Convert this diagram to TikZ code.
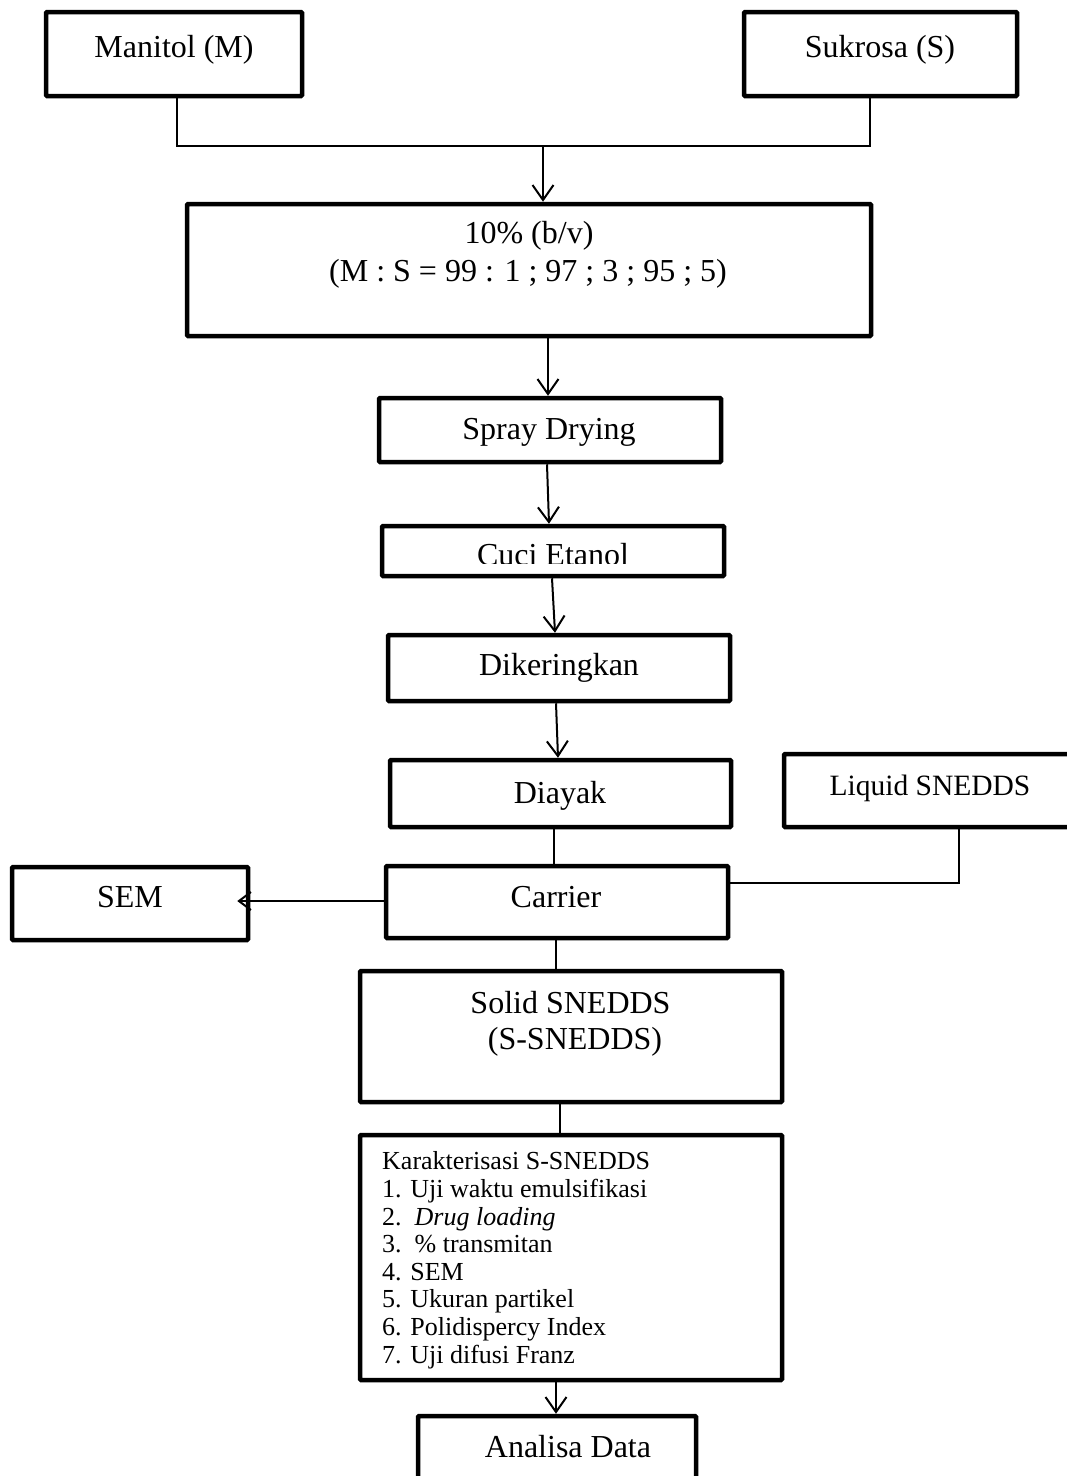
\documentclass[tikz,border=0pt]{standalone}
\usepackage{fontspec}
\setmainfont{Liberation Serif}
\usetikzlibrary{arrows.meta}
\tikzset{
  box/.style={draw, line width=4.5pt, rounded corners=1pt, inner sep=0pt},
  txt/.style={anchor=base, inner sep=0pt, font=\fontsize{32}{38}\selectfont},
  conn/.style={line width=1.6pt},
  arr/.style={line width=2pt, -{Straight Barb[length=15pt,width=21pt]}},
}
\begin{document}
\begin{tikzpicture}[x=1pt,y=-1pt]
\useasboundingbox (0,0) rectangle (1067,1476);
\clip (0,0) rectangle (1067,1476);
\fill[white] (0,0) rectangle (1067,1476);
% boxes
\node[box, minimum width=256, minimum height=84] (man) at (174,54) {};
\node[box, minimum width=273, minimum height=84] (suk) at (880.5,54) {};
\node[box, minimum width=684, minimum height=132] (mix) at (529,270) {};
\node[box, minimum width=342, minimum height=64] (spray) at (550,430) {};
\node[box, minimum width=342, minimum height=50] (cuci) at (553,551) {};
\node[box, minimum width=342, minimum height=66] (dik) at (559,668) {};
\node[box, minimum width=341, minimum height=67] (diayak) at (560.5,793.5) {};
\node[box, minimum width=289, minimum height=73] (liq) at (928.5,790.5) {};
\node[box, minimum width=342, minimum height=72] (car) at (557,902) {};
\node[box, minimum width=236, minimum height=73] (sem) at (130,903.5) {};
\node[box, minimum width=422, minimum height=131] (solid) at (571,1036.5) {};
\node[box, minimum width=422, minimum height=245] (kar) at (571,1257.5) {};
\node[box, minimum width=278, minimum height=86] (ana) at (557,1459) {};
% texts
\node[txt] (manT) at (174,57) {Manitol (M)};
\node[txt] (sukT) at (880,57) {Sukrosa (S)};
\node[txt] (mixT1) at (529,243) {10\% (b/v)};
\node[txt] (mixT2) at (528,281) {(M : S = 99 : 1 ; 97 ; 3 ; 95 ; 5)};
\node[txt] (sprayT) at (549,439) {Spray Drying};
\begin{scope}
\clip (380,520) rectangle (726,563);
\node[txt] (cuciT) at (553,565) {Cuci Etanol};
\end{scope}
\node[txt] (dikT) at (559,675) {Dikeringkan};
\node[txt] (diayakT) at (560,803) {Diayak};
\node[txt, font=\fontsize{29.5}{35}\selectfont] (liqT) at (930,795) {Liquid SNEDDS};
\node[txt] (carT) at (556,907) {Carrier};
\node[txt] (semT) at (130,907) {SEM};
\node[txt] (solidT1) at (570.5,1013) {Solid SNEDDS};
\node[txt] (solidT2) at (575,1049) {(S-SNEDDS)};
\node[anchor=base west, inner sep=0pt, align=left, font=\fontsize{26}{27.6}\selectfont] (karT) at (382,1363) {Karakterisasi S-SNEDDS\\
1. Uji waktu emulsifikasi\\
2.\ \ \textit{Drug loading}\\
3.\ \ \% transmitan\\
4. SEM\\
5. Ukuran partikel\\
6. Polidispercy Index\\
7. Uji difusi Franz};
\node[txt] (anaT) at (568,1457) {Analisa Data};
% connectors
\coordinate (j) at (543,146);
\draw[conn] ([xshift=3pt]man.south) |- (j) -| ([xshift=-10.5pt]suk.south);
\draw[arr] (j) -- (j |- mix.north);
\draw[arr] ([xshift=19pt]mix.south) -- ([xshift=-2pt]spray.north);
\draw[arr] ([xshift=-3pt]spray.south) -- ([xshift=-4pt]cuci.north);
\draw[arr] ([xshift=-1pt]cuci.south) -- ([xshift=-4pt]dik.north);
\draw[arr] ([xshift=-3pt]dik.south) -- ([xshift=-2.5pt]diayak.north);
\draw[conn] ([xshift=-6.5pt]diayak.south) -- ([xshift=-3pt]car.north);
\draw[conn] ([xshift=30.5pt]liq.south) |- ([yshift=19pt]car.east);
\draw[arr, shorten >=-13pt, -{Straight Barb[length=12pt,width=18pt]}] (car.west |- 0,901) -- (sem.east |- 0,901);
\draw[conn] ([xshift=-1pt]car.south) -- ([xshift=-15pt]solid.north);
\draw[conn] ([xshift=-11pt]solid.south) -- ([xshift=-11pt]kar.north);
\draw[arr] ([xshift=-15pt]kar.south) -- ([xshift=-1pt]ana.north);
\end{tikzpicture}
\end{document}
